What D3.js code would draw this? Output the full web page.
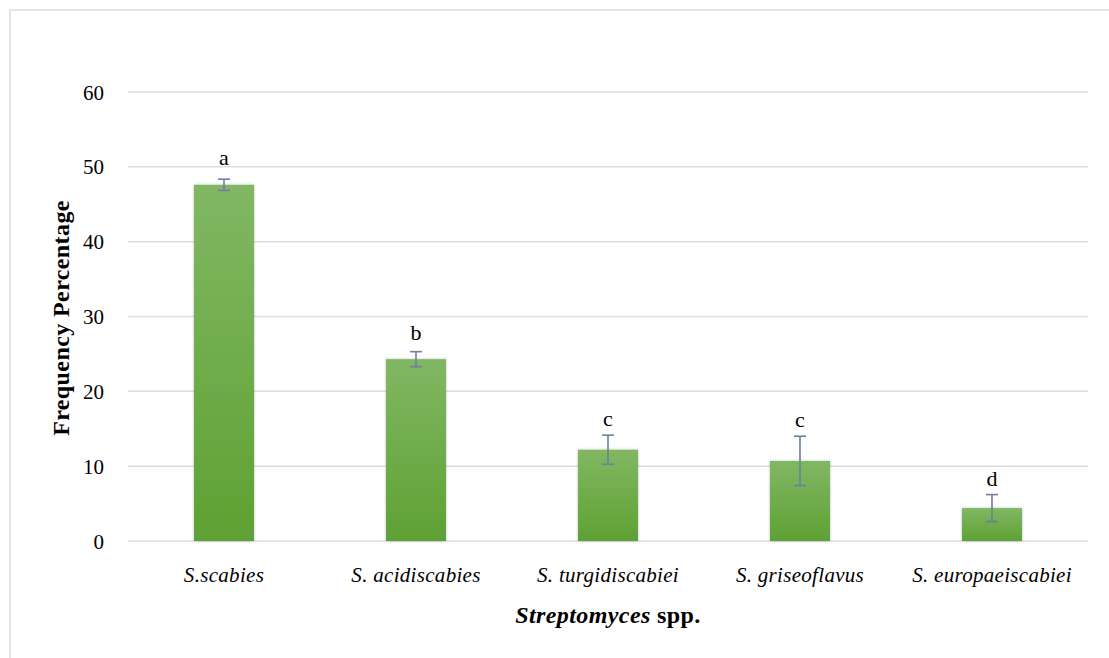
<!DOCTYPE html>
<html><head><meta charset="utf-8">
<script src="https://cdn.jsdelivr.net/npm/d3@7"></script>
<style>body{margin:0;background:#fff}svg{display:block}</style>
</head><body><svg id="c" width="1109" height="658"></svg>
<script>
const categories = ["S.scabies", "S. acidiscabies", "S. turgidiscabiei", "S. griseoflavus", "S. europaeiscabiei"];
const values = [47.6, 24.3, 12.2, 10.7, 4.4];
const errors = [0.75, 1.0, 1.95, 3.3, 1.8];
const letters = ["a", "b", "c", "c", "d"];
const yTicks = [0, 10, 20, 30, 40, 50, 60];

const svg = d3.select("#c");
const font = "'Palatino Linotype','Book Antiqua',Palatino,'Liberation Serif','DejaVu Serif',serif";

// frame
svg.append("rect").attr("x", 10).attr("y", 10).attr("width", 1120).attr("height", 700)
  .attr("fill", "none").attr("stroke", "#d9dde4").attr("stroke-width", 1.5);

const x = d3.scaleBand().domain(categories).range([128, 1088]).paddingInner(0.6875).paddingOuter(0.34375);
const y = d3.scaleLinear().domain([0, 60]).range([541, 92]);

const defs = svg.append("defs");
const g = defs.append("linearGradient").attr("id", "bg").attr("x1", 0).attr("y1", 0).attr("x2", 0).attr("y2", 1);
g.append("stop").attr("offset", "0%").attr("stop-color", "#81b763");
g.append("stop").attr("offset", "100%").attr("stop-color", "#5fa133");
const f = defs.append("filter").attr("id", "sh").attr("x", "-20%").attr("y", "-5%").attr("width", "140%").attr("height", "110%");
f.append("feDropShadow").attr("dx", 0).attr("dy", 0).attr("stdDeviation", 1.5).attr("flood-color", "#000").attr("flood-opacity", 0.25);

// gridlines
svg.append("g").selectAll("line").data(yTicks).join("line")
  .attr("x1", 128).attr("x2", 1088).attr("y1", d => y(d)).attr("y2", d => y(d))
  .attr("stroke", "#d9dde4").attr("stroke-width", 1.5);

// y axis labels
const ya = svg.append("g").attr("transform", "translate(104,0)")
  .call(d3.axisLeft(y).tickValues(yTicks).tickSize(0).tickPadding(0));
ya.select(".domain").remove();
ya.selectAll("text").attr("font-family", font).attr("font-size", 21).attr("fill", "#000").attr("dy", "0.34em");

// bars
svg.append("g").selectAll("rect").data(categories).join("rect")
  .attr("x", d => x(d)).attr("width", x.bandwidth())
  .attr("y", (d, i) => y(values[i])).attr("height", (d, i) => y(0) - y(values[i]))
  .attr("fill", "url(#bg)").attr("filter", "url(#sh)");

// error bars
const eb = svg.append("g").attr("stroke", "#6b7f9e").attr("stroke-width", 1.6);
categories.forEach((c, i) => {
  const cx = x(c) + x.bandwidth() / 2;
  const t = y(values[i] + errors[i]), b = y(values[i] - errors[i]);
  eb.append("line").attr("x1", cx).attr("x2", cx).attr("y1", t).attr("y2", b);
  eb.append("line").attr("x1", cx - 6).attr("x2", cx + 6).attr("y1", t).attr("y2", t);
  eb.append("line").attr("x1", cx - 6).attr("x2", cx + 6).attr("y1", b).attr("y2", b);
});

// letters
svg.append("g").selectAll("text").data(categories).join("text")
  .attr("x", d => x(d) + x.bandwidth() / 2)
  .attr("y", (d, i) => y(Math.max(values[i] + 2.6, values[i] + errors[i] + 1.2)))
  .attr("text-anchor", "middle").attr("font-family", font).attr("font-size", 22)
  .text((d, i) => letters[i]);

// x axis labels
const xa = svg.append("g").attr("transform", "translate(0,567)")
  .call(d3.axisBottom(x).tickSize(0).tickPadding(0));
xa.select(".domain").remove();
xa.selectAll("text").attr("font-family", font).attr("font-size", 21).attr("font-style", "italic")
  .attr("letter-spacing", "0.3px").attr("fill", "#000");

// axis titles
const xt = svg.append("text").attr("x", 608).attr("y", 623).attr("text-anchor", "middle")
  .attr("font-family", font).attr("font-size", 24).attr("font-weight", "bold").attr("letter-spacing", "0.4px");
xt.append("tspan").attr("font-style", "italic").text("Streptomyces");
xt.append("tspan").text(" spp.");

svg.append("text").attr("transform", "translate(69,318) rotate(-90)").attr("text-anchor", "middle")
  .attr("font-family", font).attr("font-size", 24).attr("font-weight", "bold").attr("letter-spacing", "0.4px")
  .text("Frequency Percentage");
</script></body></html>
